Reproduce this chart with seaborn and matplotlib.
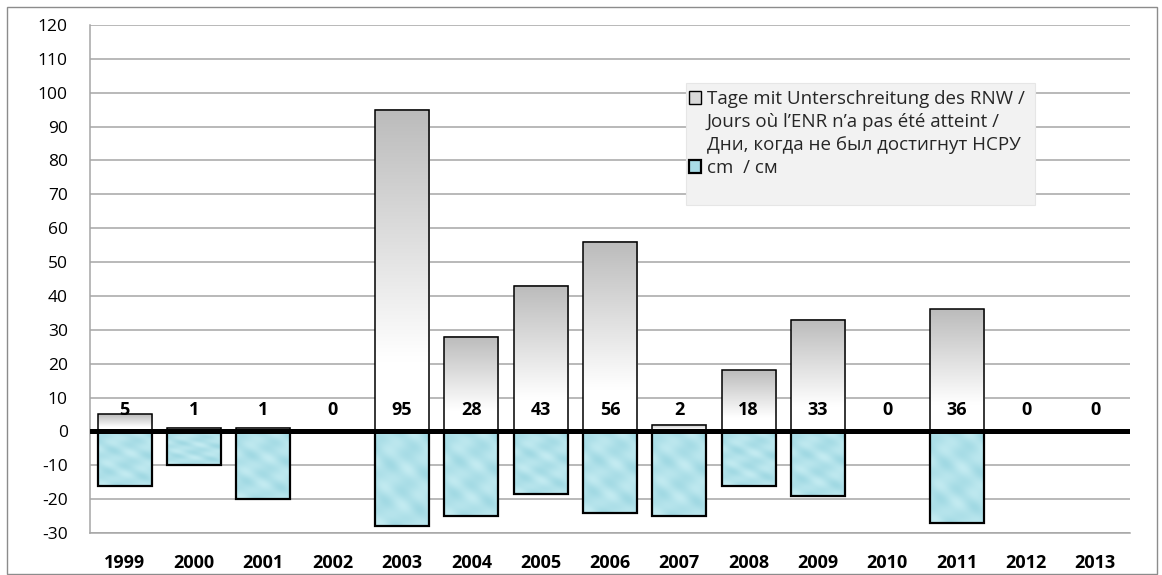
import numpy as np
import pandas as pd
import matplotlib
matplotlib.use("Agg")
import matplotlib.pyplot as plt
import seaborn as sns
from matplotlib.patches import Patch, Rectangle

# ----------------------------
# Data
# ----------------------------
years = ['1999', '2000', '2001', '2002', '2003', '2004', '2005', '2006',
         '2007', '2008', '2009', '2010', '2011', '2012', '2013']
days_below = [5, 1, 1, 0, 95, 28, 43, 56, 2, 18, 33, 0, 36, 0, 0]
cm_below = [-16, -10, -20, np.nan, -28, -25, -18.5, -24, -25, -16, -19,
            np.nan, -27, np.nan, np.nan]

label_days = ("Tage mit Unterschreitung des RNW /",
              "Jours où l’ENR n’a pas été atteint /",
              "Дни, когда не был достигнут НСРУ")
label_cm = "cm  / см"

df = pd.DataFrame({'year': years, 'days': days_below, 'cm': cm_below})

# ----------------------------
# Style
# ----------------------------
sns.set_theme(style='white')
plt.rcParams['font.family'] = ['Open Sans', 'DejaVu Sans']
plt.rcParams['axes.unicode_minus'] = False

fig = plt.figure(figsize=(11.62, 5.75), dpi=100)
ax = fig.add_axes([90 / 1162, 1 - 533 / 575, 1040 / 1162, 508 / 575])

sns.barplot(data=df, x='year', y='days', order=years, color='#bfbfbf',
            width=0.78, edgecolor='black', linewidth=1.1, errorbar=None,
            ax=ax, zorder=3)
sns.barplot(data=df, x='year', y='cm', order=years, color='#a8dce6',
            width=0.78, edgecolor='black', linewidth=1.6, errorbar=None,
            ax=ax, zorder=3)

# gradient / texture fills
g = np.linspace(0, 1, 100)
gray_vals = 1.0 - 0.265 * np.clip((g - 0.22) / 0.78, 0, 1)
gray_img = np.repeat(gray_vals[:, None, None], 3, axis=2)

yy, xx = np.mgrid[0:90, 0:45]
tex = (np.sin(xx / 4.0 + yy / 7.0) + np.cos(yy / 5.0 - xx / 6.0) +
       0.6 * np.sin((xx + yy) / 3.0)) / 2.6
base = np.array([0.63, 0.85, 0.89])
light = np.array([0.80, 0.94, 0.96])
t = (tex[..., None] + 1) / 2
blue_img = base * (1 - t * 0.8) + light * (t * 0.8)

for cont, img in [(ax.containers[0], gray_img), (ax.containers[1], blue_img)]:
    for p in cont.patches:
        h = p.get_height()
        if not np.isfinite(h) or h == 0:
            continue
        x0, y0, w = p.get_x(), p.get_y(), p.get_width()
        ax.imshow(img, extent=[x0, x0 + w, min(y0, y0 + h), max(y0, y0 + h)],
                  aspect='auto', origin='lower', interpolation='bilinear',
                  zorder=2.9)
        p.set_facecolor('none')

# value labels near the baseline
for p, v in zip(ax.containers[0].patches, days_below):
    ax.text(p.get_x() + p.get_width() / 2, 6.2, str(v), ha='center',
            va='center', fontsize=13, fontweight='bold', color='black',
            zorder=5)

ax.axhline(0, color='black', lw=3.6, zorder=4)

ax.set_xlim(-0.5, len(years) - 0.5)
ax.set_ylim(-30, 120)
ax.set_yticks(range(-30, 121, 10))
ax.set_aspect('auto')
ax.grid(axis='y', color='#a6a6a6', lw=1.1, zorder=0)
ax.set_axisbelow(True)
ax.set_xlabel('')
ax.set_ylabel('')
ax.tick_params(axis='both', length=0, colors='black')
ax.tick_params(axis='y', pad=16, labelsize=12.5)
ax.tick_params(axis='x', pad=15, labelsize=13)
for lab in ax.get_xticklabels():
    lab.set_fontweight('bold')
for side in ['top', 'right']:
    ax.spines[side].set_visible(False)
for side in ['left', 'bottom']:
    ax.spines[side].set_color('#a6a6a6')
    ax.spines[side].set_linewidth(1.1)

# legend
fig.patches.append(Rectangle((686 / 1162, 1 - 205 / 575), 349 / 1162, 122 / 575,
                             transform=fig.transFigure, facecolor='#f2f2f2',
                             edgecolor='#e6e6e6', lw=0.8, zorder=10))
blank = Patch(facecolor='none', edgecolor='none')
handles = [Patch(facecolor='#d9d9d9', edgecolor='black', lw=1.0), blank, blank,
           Patch(facecolor='#a8dce6', edgecolor='black', lw=1.6)]
labels = list(label_days) + [label_cm]
leg = fig.legend(handles, labels, loc='upper left',
                 bbox_to_anchor=(689 / 1162, 1 - 90 / 575), frameon=False,
                 fontsize=13.5, handlelength=0.65, handleheight=0.65,
                 handletextpad=0.3, labelspacing=0.27, borderpad=0,
                 borderaxespad=0)
leg.set_zorder(11)

# outer chart border
fig.patches.append(Rectangle((7 / 1162, 1 / 575), 1150 / 1162, 567 / 575,
                             transform=fig.transFigure, facecolor='none',
                             edgecolor='#8c8c8c', lw=1.0))

fig.savefig('out.png', dpi=100, facecolor='white')
